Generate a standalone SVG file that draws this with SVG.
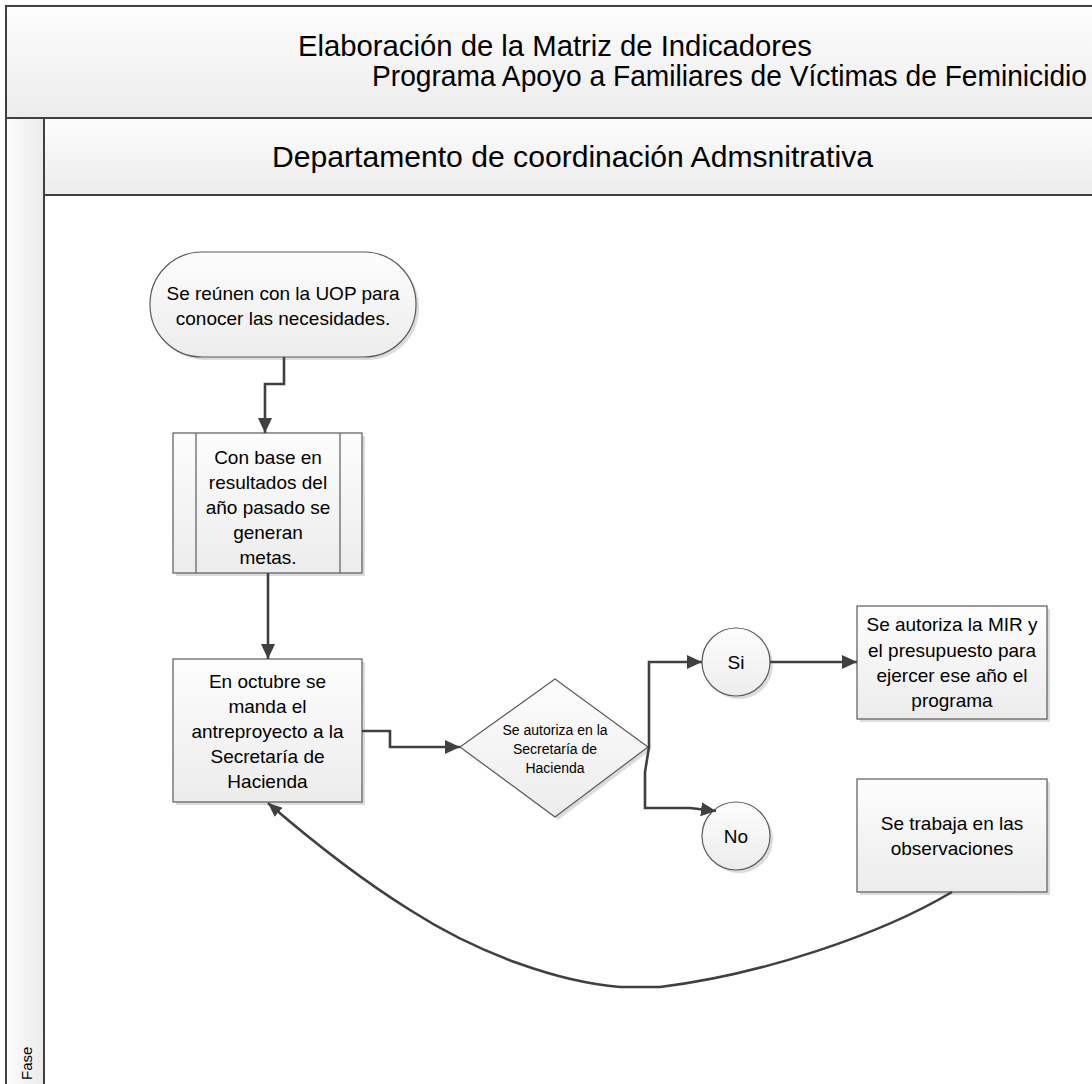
<svg xmlns="http://www.w3.org/2000/svg" width="1092" height="1084" viewBox="0 0 1092 1084">
<defs>
<linearGradient id="gV" x1="0" y1="0" x2="0" y2="1"><stop offset="0" stop-color="#fdfdfd"/><stop offset="1" stop-color="#ececec"/></linearGradient>
<linearGradient id="gH" x1="0" y1="0" x2="1" y2="0"><stop offset="0" stop-color="#fdfdfd"/><stop offset="1" stop-color="#ebebeb"/></linearGradient>
<marker id="arr" markerUnits="userSpaceOnUse" markerWidth="16" markerHeight="14" refX="15" refY="7" orient="auto"><path d="M0,0 L15,7 L0,14 z" fill="#404040"/></marker>
<marker id="arrS" markerUnits="userSpaceOnUse" markerWidth="14" markerHeight="12" refX="14" refY="6" orient="auto"><path d="M0,0 L14,6 L0,12 z" fill="#404040"/></marker>
</defs>
<style>
.lane{stroke:#404040;stroke-width:2}
.node{fill:url(#gV);stroke:#5a5a5a;stroke-width:1.2}
.sh{fill:#dcdcdc}
.t{font-family:"Liberation Sans",Arial,sans-serif;fill:#000;text-anchor:middle}
.n{font-size:19px}
.d{font-size:14px}
.hd{font-size:29.5px;text-anchor:start}
.c{fill:none;stroke:#404040;stroke-width:2.6}
</style>
<rect width="1092" height="1084" fill="#ffffff"/>
<g id="pool">
<rect x="6" y="6" width="1090" height="112" fill="url(#gV)" class="lane"/>
<rect x="6" y="118" width="38" height="970" fill="url(#gH)" class="lane"/>
<rect x="44" y="118" width="1052" height="77" fill="url(#gV)" class="lane"/>
<text class="t hd" x="298" y="56" textLength="514" lengthAdjust="spacingAndGlyphs">Elaboración de la Matriz de Indicadores</text>
<text class="t hd" x="372" y="86" textLength="715" lengthAdjust="spacingAndGlyphs">Programa Apoyo a Familiares de Víctimas de Feminicidio</text>
<text class="t hd" x="272" y="167" textLength="601" lengthAdjust="spacingAndGlyphs">Departamento de coordinación Admsnitrativa</text>
<text class="t" font-size="15" transform="translate(32,1080) rotate(-90)" style="text-anchor:start">Fase</text>
</g>
<g id="n1">
<rect class="sh" x="153" y="255" width="266" height="105" rx="52"/>
<rect class="node" x="150" y="252" width="266" height="105" rx="52"/>
<text class="t n" x="283" y="299.5">Se reúnen con la UOP para</text>
<text class="t n" x="283" y="325">conocer las necesidades.</text>
</g>
<g id="n2">
<rect class="sh" x="176" y="436" width="189" height="140"/>
<rect class="node" x="173" y="433" width="189" height="140"/>
<line x1="196" y1="433" x2="196" y2="573" stroke="#5a5a5a" stroke-width="1.2"/>
<line x1="340" y1="433" x2="340" y2="573" stroke="#5a5a5a" stroke-width="1.2"/>
<text class="t n" x="268" y="463.5">Con base en</text>
<text class="t n" x="268" y="488.5">resultados del</text>
<text class="t n" x="268" y="513.5">año pasado se</text>
<text class="t n" x="268" y="538.5">generan</text>
<text class="t n" x="268" y="563.5">metas.</text>
</g>
<g id="n3">
<rect class="sh" x="176" y="662" width="189" height="143"/>
<rect class="node" x="173" y="659" width="189" height="143"/>
<text class="t n" x="267.5" y="687.5">En octubre se</text>
<text class="t n" x="267.5" y="712.5">manda el</text>
<text class="t n" x="267.5" y="738">antreproyecto a la</text>
<text class="t n" x="267.5" y="763">Secretaría de</text>
<text class="t n" x="267.5" y="788">Hacienda</text>
</g>
<g id="n4">
<polygon class="sh" points="463,750 558,682 651,750 558,820"/>
<polygon class="node" points="460,747 555,679 648,747 555,817"/>
<text class="t d" x="555" y="735">Se autoriza en la</text>
<text class="t d" x="555" y="754">Secretaría de</text>
<text class="t d" x="555" y="773">Hacienda</text>
</g>
<g id="n5">
<circle class="sh" cx="739" cy="665" r="34"/>
<circle class="node" cx="736" cy="662" r="34"/>
<text class="t n" x="736" y="669">Si</text>
</g>
<g id="n6">
<circle class="sh" cx="739" cy="839" r="34"/>
<circle class="node" cx="736" cy="836" r="34"/>
<text class="t n" x="736" y="843">No</text>
</g>
<g id="n7">
<rect class="sh" x="860" y="609" width="190" height="113"/>
<rect class="node" x="857" y="606" width="190" height="113"/>
<text class="t n" x="952" y="630.5">Se autoriza la MIR y</text>
<text class="t n" x="952" y="656.5">el presupuesto para</text>
<text class="t n" x="952" y="681.5">ejercer ese año el</text>
<text class="t n" x="952" y="706.5">programa</text>
</g>
<g id="n8">
<rect class="sh" x="860" y="782" width="190" height="113"/>
<rect class="node" x="857" y="779" width="190" height="113"/>
<text class="t n" x="952" y="829.5">Se trabaja en las</text>
<text class="t n" x="952" y="854.5">observaciones</text>
</g>
<g id="connectors">
<path class="c" d="M284,357 L284,384 L265,384 L265,433" marker-end="url(#arr)"/>
<path class="c" d="M268,573 L268,659" marker-end="url(#arr)"/>
<path class="c" d="M362,731 L390,731 L390,747 L460,747" marker-end="url(#arr)"/>
<path class="c" d="M648,747 L649,747 L649,662 L702,662" marker-end="url(#arr)"/>
<path class="c" d="M649,747 L645,772 L645,808 L690,808 L716,811" marker-end="url(#arr)"/>
<path class="c" d="M770,662 L857,662" marker-end="url(#arr)"/>
<path class="c" d="M952,892 C880,935 760,975 660,987 L620,987 C560,982 480,955 410,910 C370,885 320,848 268,803" marker-end="url(#arrS)"/>
</g>
</svg>
